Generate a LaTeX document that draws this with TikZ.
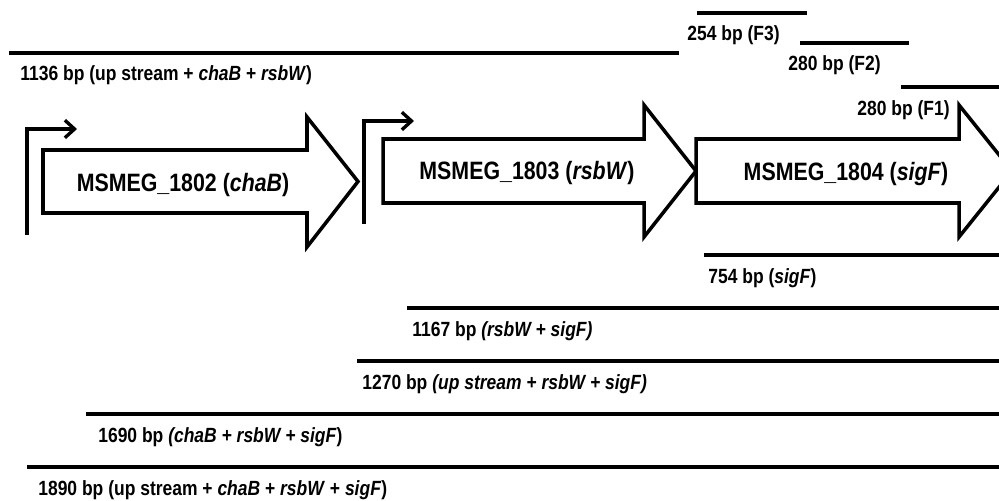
\documentclass[tikz,border=0pt]{standalone}
\usepackage{fontspec}
\setmainfont{Liberation Sans}[FakeStretch=0.85]
\usepackage{tikz}
\usetikzlibrary{arrows.meta}

\begin{document}
\begin{tikzpicture}[x=0.02cm, y=-0.02cm]
        \tikzstyle{gene} = [draw, line width=2pt, fill=white, line join=miter]
        \tikzstyle{frag} = [draw, line width=2.2pt]
        \tikzstyle{prom} = [draw, line width=1.9pt, -{Straight Barb[length=5.5pt, width=10pt]}]
        \tikzstyle{glabel} = [anchor=base, inner sep=0pt, font=\bfseries\fontsize{14.3}{17}\selectfont]
        \tikzstyle{flabel} = [anchor=base west, inner sep=0pt, font=\bfseries\fontsize{11.7}{14}\selectfont]

        \clip (0,0) rectangle (999,500);

        % promoters
        \draw [prom] (27,235) -- (27,129) -- (77,129);
        \draw [prom] (364,224) -- (364,121) -- (414,121);

        % genes
        \draw [gene] (43,150) -- (307,150) -- (307,117) -- (358,181.5) -- (307,247) -- (307,213) -- (43,213) -- cycle;
        \draw [gene] (383,139) -- (644,139) -- (644,105) -- (696,171) -- (644,237) -- (644,203) -- (383,203) -- cycle;
        \draw [gene] (696,139) -- (959,139) -- (959,105) -- (1012,171) -- (959,237) -- (959,203) -- (696,203) -- cycle;

        \node [glabel] (chab) at (183,191.5) {MSMEG\_1802 (\textit{chaB})};
        \node [glabel] (rsbw) at (527,179.5) {MSMEG\_1803 (\textit{rsbW})};
        \node [glabel] (sigf) at (846,180) {MSMEG\_1804 (\textit{sigF})};

        % PCR fragments
        \foreach \ya/\xa/\xb/\xl/\txt [count=\i] in {
                53/9/679/20/{1136 bp (up stream + \textit{chaB} + \textit{rsbW})},
                13/697/807/687/{254 bp (F3)},
                43/800/909/788/{280 bp (F2)},
                87/901/1000/857/{280 bp (F1)},
                255/704/1000/708/{754 bp (\textit{sigF})},
                308/407/1000/412/{1167 bp \textit{(rsbW + sigF)}},
                361/357/1000/362/{1270 bp \textit{(up stream + rsbW + sigF)}},
                414/86/1000/98/{1690 bp \textit{(chaB + rsbW + sigF})},
                467/27/1000/38/{1890 bp (up stream + \textit{chaB} + \textit{rsbW} + \textit{sigF})}} {
            \draw [frag] (\xa,\ya) -- (\xb,\ya);
            \node [flabel] (frag\i) at (\xl,\ya+28) {\txt};
        }
    \end{tikzpicture}
\end{document}
